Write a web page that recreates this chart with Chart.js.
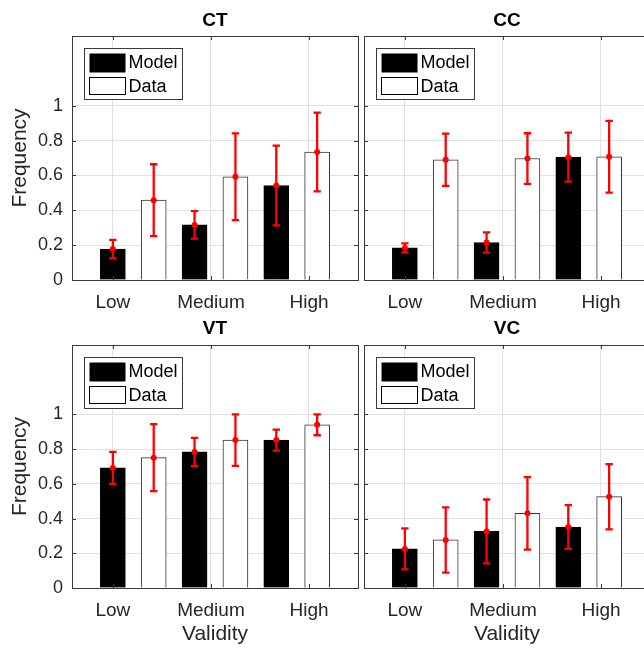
<!DOCTYPE html>
<html>
<head>
<meta charset="utf-8">
<script src="https://cdn.jsdelivr.net/npm/chart.js@4.4.1/dist/chart.umd.min.js"></script>
<style>
  html, body { margin: 0; padding: 0; background: #fff; width: 644px; height: 650px; overflow: hidden; }
  canvas { position: absolute; }
</style>
</head>
<body>
<canvas id="ct" style="left:0;top:0" width="360" height="312"></canvas>
<canvas id="cc" style="left:360px;top:0" width="290" height="312"></canvas>
<canvas id="vt" style="left:0;top:312px" width="360" height="338"></canvas>
<canvas id="vc" style="left:360px;top:312px" width="290" height="338"></canvas>
<script>
// --- data ---
const groupLabels = ["Low", "Medium", "High"];
const groupPos = [1, 3.4, 5.8];     // where Matlab put the x ticks
const modelX = [1, 3, 5];
const dataX = [2, 4, 6];
const yTicks = [0, 0.2, 0.4, 0.6, 0.8, 1];

const ctModel = [0.178, 0.316, 0.542];
const ctModelErr = [0.052, 0.079, 0.229];
const ctData = [0.458, 0.592, 0.734];
const ctDataErr = [0.206, 0.249, 0.226];

const ccModel = [0.184, 0.215, 0.705];
const ccModelErr = [0.026, 0.058, 0.141];
const ccData = [0.690, 0.697, 0.707];
const ccDataErr = [0.150, 0.145, 0.206];

const vtModel = [0.692, 0.784, 0.852];
const vtModelErr = [0.092, 0.081, 0.060];
const vtData = [0.751, 0.852, 0.940];
const vtDataErr = [0.193, 0.148, 0.060];

const vcModel = [0.225, 0.326, 0.351];
const vcModelErr = [0.118, 0.184, 0.126];
const vcData = [0.277, 0.430, 0.526];
const vcDataErr = [0.188, 0.209, 0.188];

// --- styles ---
const AXIS = "#3a3a3a";
const GRID = "#e1e1e1";
const ERR = "#ff0000";
const FONT = '"Liberation Sans", Arial, Helvetica, sans-serif';

Chart.defaults.font.family = FONT;
Chart.defaults.color = "#262626";
Chart.defaults.animation = false;

// red error bars on top of each bar
const errorBarPlugin = {
    id: "errorBars",
    afterDatasetsDraw(chart) {
        const { ctx } = chart;
        const y = chart.scales.y;
        ctx.save();
        ctx.strokeStyle = ERR;
        ctx.fillStyle = ERR;
        ctx.lineWidth = 2.3;
        chart.data.datasets.forEach((ds, d) => {
            chart.getDatasetMeta(d).data.forEach((bar, i) => {
                const v = ds.data[i].y;
                const e = ds.errors[i];
                const yt = y.getPixelForValue(v + e);
                const yb = y.getPixelForValue(v - e);
                const yc = y.getPixelForValue(v);
                ctx.beginPath();
                ctx.moveTo(bar.x, yt); ctx.lineTo(bar.x, yb);
                ctx.moveTo(bar.x - 3.7, yt); ctx.lineTo(bar.x + 3.7, yt);
                ctx.moveTo(bar.x - 3.7, yb); ctx.lineTo(bar.x + 3.7, yb);
                ctx.stroke();
                ctx.beginPath();
                ctx.arc(bar.x, yc, 3, 0, Math.PI * 2);
                ctx.fill();
            });
        });
        ctx.restore();
    }
};

// matlab style box + inward tick marks + legend
const boxPlugin = {
    id: "matlabBox",
    afterDraw(chart) {
        const { ctx, chartArea: a } = chart;
        const { x, y } = chart.scales;
        ctx.save();
        ctx.strokeStyle = AXIS;
        ctx.lineWidth = 1;
        ctx.strokeRect(Math.round(a.left) + 0.5, Math.round(a.top) + 0.5,
            Math.round(a.right - a.left), Math.round(a.bottom - a.top));
        ctx.beginPath();
        y.ticks.forEach(t => {
            const py = Math.round(y.getPixelForValue(t.value)) + 0.5;
            ctx.moveTo(a.left, py); ctx.lineTo(a.left + 4, py);
            ctx.moveTo(a.right, py); ctx.lineTo(a.right - 4, py);
        });
        x.ticks.forEach(t => {
            const px = Math.round(x.getPixelForValue(t.value)) + 0.5;
            ctx.moveTo(px, a.bottom); ctx.lineTo(px, a.bottom - 4);
            ctx.moveTo(px, a.top); ctx.lineTo(px, a.top + 4);
        });
        ctx.stroke();

        // legend box
        const lx = Math.round(a.left) + 12.5, ly = Math.round(a.top) + 12.5;
        ctx.fillStyle = "#fff";
        ctx.fillRect(lx, ly, 98, 51);
        ctx.strokeStyle = AXIS;
        ctx.strokeRect(lx, ly, 98, 51);
        ctx.fillStyle = "#000";
        ctx.fillRect(lx + 5, ly + 5, 36, 19);
        ctx.fillStyle = "#fff";
        ctx.fillRect(lx + 5, ly + 29, 36, 17);
        ctx.strokeStyle = "#000";
        ctx.strokeRect(lx + 5, ly + 29, 36, 17);
        ctx.fillStyle = "#000";
        ctx.font = "18px " + FONT;
        ctx.textBaseline = "middle";
        ctx.textAlign = "left";
        chart.data.datasets.forEach((ds, i) => {
            ctx.fillText(ds.label, lx + 44, ly + 15 + i * 24);
        });
        ctx.restore();
    }
};

function makePanel(id, title, model, modelErr, data, dataErr, left, bottom) {
    const canvas = document.getElementById(id);
    const titlePad = bottom ? { top: 5, bottom: 5.2 } : { top: 9, bottom: 4.2 };
    const chartBottom = bottom ? 276 : 280;
    return new Chart(canvas.getContext("2d"), {
        type: "bar",
        data: {
            datasets: [
                {
                    label: "Model",
                    data: modelX.map((x, i) => ({ x, y: model[i] })),
                    errors: modelErr,
                    backgroundColor: "#000",
                    borderColor: "#000",
                    borderWidth: 1,
                    barThickness: 25,
                    grouped: false
                },
                {
                    label: "Data",
                    data: dataX.map((x, i) => ({ x, y: data[i] })),
                    errors: dataErr,
                    backgroundColor: "#fff",
                    borderColor: "#333",
                    borderWidth: 1,
                    barThickness: 25,
                    grouped: false
                }
            ]
        },
        options: {
            responsive: false,
            layout: { padding: { left: 0, right: left ? 2 : 0, top: 0, bottom: 0 } },
            plugins: {
                legend: { display: false },
                tooltip: { enabled: false },
                title: {
                    display: true,
                    text: title,
                    fullSize: false,
                    color: "#000",
                    font: { size: 19, weight: "bold" },
                    padding: titlePad
                }
            },
            scales: {
                x: {
                    type: "linear",
                    min: 0,
                    max: 7,
                    offset: false,
                    afterBuildTicks: s => { s.ticks = groupPos.map(v => ({ value: v })); },
                    afterFit: s => { s.height = canvas.height - chartBottom; },
                    ticks: {
                        callback: (v, i) => groupLabels[i],
                        font: { size: 19 },
                        padding: 11,
                        maxRotation: 0,
                        autoSkip: false
                    },
                    grid: { color: GRID, drawTicks: false, offset: false },
                    border: { display: false },
                    title: {
                        display: bottom,
                        text: "Validity",
                        font: { size: 21 },
                        padding: { top: 0, bottom: 3 }
                    }
                },
                y: {
                    min: 0,
                    max: 1.4,
                    afterBuildTicks: s => { s.ticks = yTicks.map(v => ({ value: v })); },
                    afterFit: s => { s.width = left ? 72 : 4; },
                    ticks: {
                        display: left,
                        callback: v => String(+v.toFixed(1)),
                        font: { size: 18 },
                        padding: 9
                    },
                    grid: { color: GRID, drawTicks: false },
                    border: { display: false },
                    title: {
                        display: left,
                        text: "Frequency",
                        font: { size: 21 },
                        padding: { top: 8, bottom: 0 }
                    }
                }
            }
        },
        plugins: [errorBarPlugin, boxPlugin]
    });
}

makePanel("ct", "CT", ctModel, ctModelErr, ctData, ctDataErr, true, false);
makePanel("cc", "CC", ccModel, ccModelErr, ccData, ccDataErr, false, false);
makePanel("vt", "VT", vtModel, vtModelErr, vtData, vtDataErr, true, true);
makePanel("vc", "VC", vcModel, vcModelErr, vcData, vcDataErr, false, true);
</script>
</body>
</html>
